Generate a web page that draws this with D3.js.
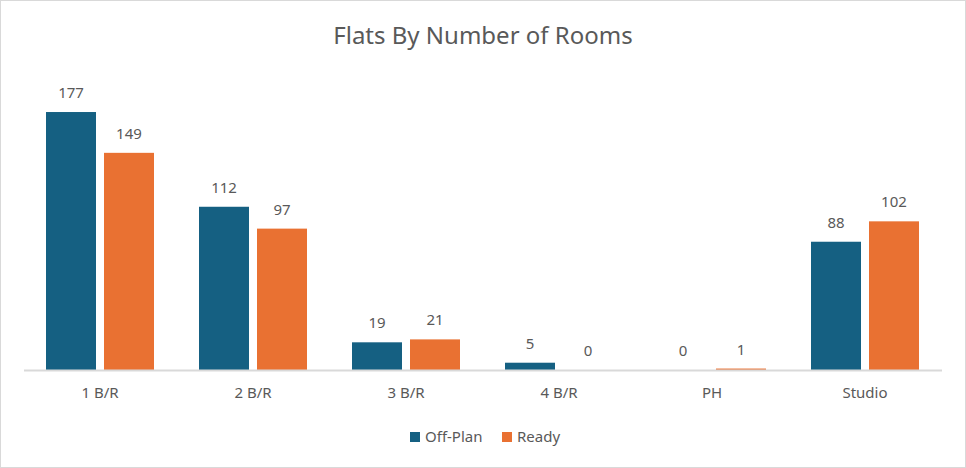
<!DOCTYPE html>
<html><head><meta charset="utf-8">
<script src="https://cdn.jsdelivr.net/npm/d3@7"></script>
<style>body{margin:0;background:#fff}svg{display:block}text{font-family:"Noto Sans",sans-serif;fill:#595959}</style>
</head><body><svg id="c" width="966" height="468"></svg>
<script>
const categories = ["1 B/R","2 B/R","3 B/R","4 B/R","PH","Studio"];
const seriesNames = ["Off-Plan","Ready"];
const offPlan = [177,112,19,5,0,88];
const ready = [149,97,21,0,1,102];
const colors = ["#156082","#E97132"];
const title = "Flats By Number of Rooms";

const svg = d3.select("#c");
svg.append("rect").attr("x",0.5).attr("y",0.5).attr("width",965).attr("height",467)
  .attr("fill","#fff").attr("stroke","#d9d9d9");

const x = d3.scaleBand().domain(categories).range([23.5,941.5]).paddingInner(0).paddingOuter(0);
const x1 = d3.scaleBand().domain(seriesNames).range([0,x.bandwidth()]).paddingInner(0.138).paddingOuter(0.388);
const y = d3.scaleLinear().domain([0,200]).range([370,78.5]);

svg.append("text").attr("x",483).attr("y",44).attr("text-anchor","middle")
  .style("font-size","24px").text(title);

const data = [offPlan, ready];
seriesNames.forEach((s,si)=>{
  const g = svg.append("g");
  g.selectAll("rect").data(categories).join("rect")
    .attr("x",c=>x(c)+x1(s)).attr("width",x1.bandwidth())
    .attr("y",(c,i)=>y(data[si][i])).attr("height",(c,i)=>y(0)-y(data[si][i]))
    .attr("fill",colors[si]);
  g.selectAll("text").data(categories).join("text")
    .attr("x",c=>x(c)+x1(s)+x1.bandwidth()/2)
    .attr("y",(c,i)=>y(data[si][i])-14)
    .attr("text-anchor","middle").style("font-size","15px")
    .text((c,i)=>data[si][i]);
});

const ax = svg.append("g").attr("transform","translate(0,370)")
  .call(d3.axisBottom(x).tickSize(0).tickPadding(17));
ax.select(".domain").attr("stroke","#d9d9d9").attr("stroke-width",2).attr("transform","translate(0,0)");
ax.selectAll("text").style("font-size","15px").attr("fill","#595959").style("font-family","Noto Sans");

const leg = svg.append("g");
const lx = [410,502];
seriesNames.forEach((s,i)=>{
  leg.append("rect").attr("x",lx[i]).attr("y",432).attr("width",10).attr("height",10).attr("fill",colors[i]);
  leg.append("text").attr("x",lx[i]+15).attr("y",442).style("font-size","15px").text(s);
});
</script></body></html>
